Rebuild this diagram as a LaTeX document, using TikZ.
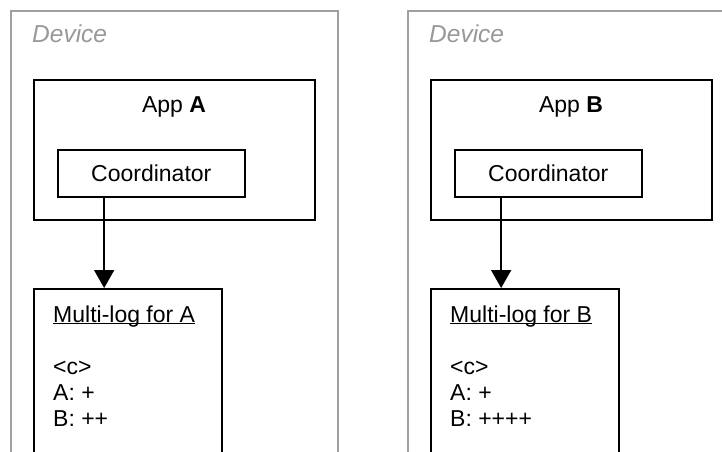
\documentclass[tikz,border=0pt]{standalone}
\usepackage{fontspec}
\setmainfont{Liberation Sans}
\usetikzlibrary{arrows.meta,calc}
\definecolor{devgray}{HTML}{A0A0A0}
\definecolor{devtext}{HTML}{999999}
% underline drawn just under the baseline, crossing descenders
\newcommand\ulabel[1]{\setbox0\hbox{#1}\rlap{\rule[-2.2pt]{\wd0}{1.3pt}}\box0}

\begin{document}
\begin{tikzpicture}[x=1pt,y=-1pt,
  device/.style={draw=devgray, line width=1.7pt, inner sep=0pt, anchor=north west},
  devlabel/.style={inner sep=0pt, anchor=base west, text=devtext,
    font=\fontsize{24.5}{26}\selectfont\itshape},
  box/.style={draw, line width=1.6pt, inner sep=0pt, anchor=north west},
  txt/.style={inner sep=0pt, font=\fontsize{23}{26}\selectfont},
  arr/.style={line width=1.6pt, -{Triangle[width=20pt,length=18pt]}}]

\useasboundingbox (0,0) rectangle (722,451);
\clip (0,0) rectangle (722,451);
\fill[white] (0,0) rectangle (722,451);

% ---- device A ----
\node[device, minimum width=327, minimum height=470] (devA) at (10,10) {};
\node[devlabel] (devAlbl) at (32,42) {Device};
\node[box, minimum width=281, minimum height=140] (appA) at (33,79) {};
\node[txt, anchor=base] (appAlbl) at (174,112) {App \textbf{A}};
\node[box, minimum width=187, minimum height=47, txt] (coordA) at (57,149) {Coordinator};
\node[box, minimum width=188, minimum height=200] (logA) at (33,288) {};
\node[txt, anchor=base west] (logAt) at (53,322) {\ulabel{Multi-log for A}};
\node[txt, anchor=base west] (logAc) at (53,374) {<c>};
\node[txt, anchor=base west] (logAa) at (53,400) {A: +};
\node[txt, anchor=base west] (logAb) at (53,426) {B: ++};
\coordinate (sA) at ($(coordA.south west)!0.25!(coordA.south east)$);
\draw[arr] (sA) -- (sA |- logA.north);

% ---- device B ----
\node[device, minimum width=327, minimum height=470] (devB) at (407,10) {};
\node[devlabel] (devBlbl) at (429,42) {Device};
\node[box, minimum width=281, minimum height=140] (appB) at (430,79) {};
\node[txt, anchor=base] (appBlbl) at (571,112) {App \textbf{B}};
\node[box, minimum width=187, minimum height=47, txt] (coordB) at (454,149) {Coordinator};
\node[box, minimum width=188, minimum height=200] (logB) at (430,288) {};
\node[txt, anchor=base west] (logBt) at (450,322) {\ulabel{Multi-log for B}};
\node[txt, anchor=base west] (logBc) at (450,374) {<c>};
\node[txt, anchor=base west] (logBa) at (450,400) {A: +};
\node[txt, anchor=base west] (logBb) at (450,426) {B: ++++};
\coordinate (sB) at ($(coordB.south west)!0.25!(coordB.south east)$);
\draw[arr] (sB) -- (sB |- logB.north);
\end{tikzpicture}
\end{document}
